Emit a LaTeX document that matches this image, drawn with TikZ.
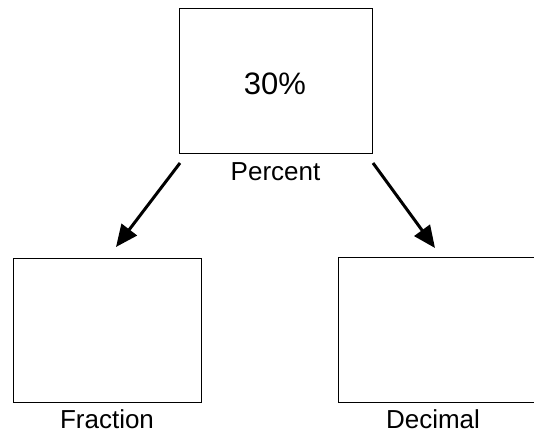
\documentclass[tikz,border=0pt]{standalone}
\usepackage{fontspec}
\setmainfont{Liberation Sans}
\usetikzlibrary{arrows.meta}

\tikzset{
    box/.style={draw, line width=0.5pt, inner sep=0pt},
    lbl/.style={font=\fontsize{13}{15}\selectfont, inner sep=0pt},
    arr/.style={line width=1.5pt, -{Triangle[length=11pt, width=9.5pt]}}
}

\begin{document}
\begin{tikzpicture}[x=0.5pt, y=-0.5pt]
    \useasboundingbox (0,0) rectangle (534,433);

    % 三个方框
    \node[box, minimum width=96.5pt, minimum height=72pt] (pct) at (275.5,81) {};
    \node[box, minimum width=94pt, minimum height=72pt] (frac) at (107,330) {};
    \node[box, minimum width=110pt, minimum height=72.5pt] (dec) at (448,329.5) {};

    % 文字
    \node[font=\fontsize{15.5}{18}\selectfont, inner sep=0pt, anchor=base] (val) at (275,94) {30\%};
    \node[font=\fontsize{15.5}{18}\selectfont, inner sep=0pt, anchor=base west] (colon) at (-6.5,38) {:};
    \node[lbl, anchor=base] (pctlbl) at (275.5,180) {Percent};
    \node[lbl, anchor=base] (fraclbl) at (107,428) {Fraction};
    \node[lbl, anchor=base] (declbl) at (433,428) {Decimal};

    % 箭头
    \coordinate (s1) at (180,163);
    \coordinate (e1) at (116,247);
    \coordinate (s2) at (373,163);
    \coordinate (e2) at (435,248);
    \draw[arr] (s1) -- (e1);
    \draw[arr] (s2) -- (e2);
\end{tikzpicture}
\end{document}
